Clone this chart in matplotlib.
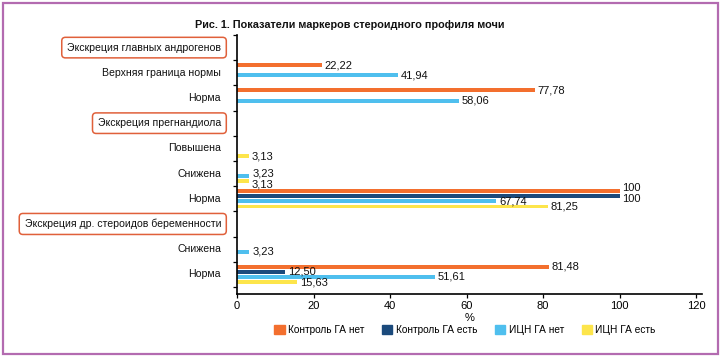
import matplotlib
matplotlib.use('Agg')
import matplotlib.pyplot as plt
from matplotlib.patches import Patch, Rectangle

plt.rcParams['font.family'] = ['Liberation Sans', 'DejaVu Sans']

# rows from top to bottom; headers have no bars
rows = ['Экскреция главных андрогенов', 'Верхняя граница нормы', 'Норма',
        'Экскреция прегнандиола', 'Повышена', 'Снижена', 'Норма',
        'Экскреция др. стероидов беременности', 'Снижена', 'Норма']
is_header = [True, False, False, True, False, False, False, True, False, False]

series = ['Контроль ГА нет', 'Контроль ГА есть', 'ИЦН ГА нет', 'ИЦН ГА есть']
control_no = [0, 22.22, 77.78, 0, 0, 0, 100, 0, 0, 81.48]
control_yes = [0, 0, 0, 0, 0, 0, 100, 0, 0, 12.50]
icn_no = [0, 41.94, 58.06, 0, 0, 3.23, 67.74, 0, 3.23, 51.61]
icn_yes = [0, 0, 0, 0, 3.13, 3.13, 81.25, 0, 0, 15.63]
values = [control_no, control_yes, icn_no, icn_yes]
colors = ['#f36f2e', '#1b4a7c', '#4fbfee', '#fde54b']

xticks = [0, 20, 40, 60, 80, 100, 120]
title = 'Рис. 1. Показатели маркеров стероидного профиля мочи'


def fmt(v):
	if v == int(v):
		return '%d' % v
	return ('%.2f' % v).replace('.', ',')


fig = plt.figure(figsize=(7.2, 3.56), dpi=100)
ax = fig.add_axes([237 / 720, 1 - 294 / 356, 465 / 720, (294 - 35) / 356])

n = len(rows)
step = 0.205
height = 0.155
fs = 7.6
num_fs = 8.0

for k, vals in enumerate(values):
	pos = [i + (k - 1.5) * step for i in range(n)]
	ax.barh(pos, vals, height=height, color=colors[k], label=series[k])

# value labels, nudged apart when neighbours collide
for i in range(n):
	items = [(k, values[k][i]) for k in range(4) if values[k][i] > 0]
	shifts = [0.0] * len(items)
	for j in range(1, len(items)):
		if abs(items[j][1] - items[j - 1][1]) < 7:
			shifts[j - 1] -= 2.0
			shifts[j] += 2.2
	for (k, v), dy in zip(items, shifts):
		y = i + (k - 1.5) * step
		ax.annotate(fmt(v), xy=(v, y), xytext=(2.0, -dy), textcoords='offset points',
			ha='left', va='center', fontsize=num_fs, color='#111111')

# row labels
for i, (name, hdr) in enumerate(zip(rows, is_header)):
	box = None
	if hdr:
		box = dict(boxstyle='round,pad=0.5,rounding_size=0.35', fc='white', ec='#e0603a', lw=1.1)
	ax.annotate(name, xy=(0, i), xycoords=ax.get_yaxis_transform(), xytext=(-11.5, 0),
		textcoords='offset points', ha='right', va='center', fontsize=fs, color='#111111',
		bbox=box, annotation_clip=False)

ax.set_ylim(n - 0.5 + 0.28, -0.5)
ax.set_xlim(0, 121.5)
ax.set_yticks([i - 0.5 for i in range(n + 1)])
ax.set_yticklabels([])
ax.set_xticks(xticks)
ax.set_xticklabels([str(t) for t in xticks], fontsize=num_fs)
ax.set_xlabel('%', fontsize=num_fs, labelpad=1.5)

for s in ['top', 'right']:
	ax.spines[s].set_visible(False)
for s in ['left', 'bottom']:
	ax.spines[s].set_linewidth(1.2)
ax.tick_params(axis='both', length=3, width=0.9, pad=2)

handles = [Patch(color=c) for c in colors]
fig.legend(handles, series, loc='center', bbox_to_anchor=(465 / 720, 1 - 330 / 356),
	ncol=4, frameon=False, fontsize=7.3, handlelength=1.0, handleheight=1.0,
	handletextpad=0.35, columnspacing=1.75)

fig.text(350 / 720, 1 - 25 / 356, title, ha='center', va='center', fontsize=7.8,
	fontweight='bold', color='#111111')

fig.patches.append(Rectangle((2.5 / 720, 2.5 / 356), 715 / 720, 351 / 356, transform=fig.transFigure,
	fill=False, ec='#b36bb0', lw=1.6))

fig.savefig('out.png', dpi=100)
